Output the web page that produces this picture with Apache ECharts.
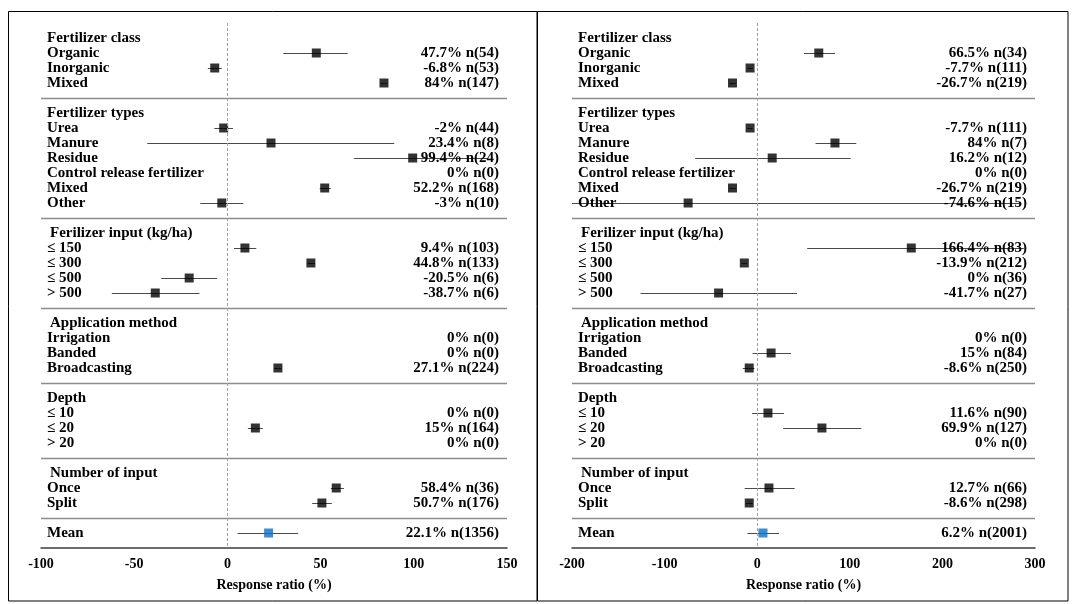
<!DOCTYPE html>
<html>
<head>
<meta charset="utf-8">
<script src="https://cdn.jsdelivr.net/npm/echarts@6/dist/echarts.min.js"></script>
<style>
html,body{margin:0;padding:0;background:#fff;}
#c{width:1074px;height:604px;}
</style>
</head>
<body>
<div id="c"></div>
<script>
// ---- data ----
const rowLabels = [
  'Fertilizer class','Organic','Inorganic','Mixed','',
  'Fertilizer types','Urea','Manure','Residue','Control release fertilizer','Mixed','Other','',
  'Ferilizer input (kg/ha)','≤ 150','≤ 300','≤ 500','> 500','',
  'Application method','Irrigation','Banded','Broadcasting','',
  'Depth','≤ 10','≤ 20','> 20','',
  'Number of input','Once','Split','',
  'Mean'
];

// left panel
const leftPct = [null,47.7,-6.8,84,null, null,-2,23.4,99.4,0,52.2,-3,null, null,9.4,44.8,-20.5,-38.7,null, null,0,0,27.1,null, null,0,15,0,null, null,58.4,50.7,null, 22.1];
const leftN   = [null,54,53,147,null, null,44,8,24,0,168,10,null, null,103,133,6,6,null, null,0,0,224,null, null,0,164,0,null, null,36,176,null, 1356];
const leftLo  = [null,30,-10.5,82,null, null,-7,-43,68,null,49.5,-14.5,null, null,3.5,43,-35.5,-62,null, null,null,null,25,null, null,null,11,null,null, null,55.5,45.5,null, 5.5];
const leftHi  = [null,64.5,-3,86,null, null,3,89.5,140,null,55.5,8.5,null, null,15.5,47,-5.5,-15,null, null,null,null,29,null, null,null,19,null,null, null,62.5,56,null, 38];

// right panel
const rightPct = [null,66.5,-7.7,-26.7,null, null,-7.7,84,16.2,0,-26.7,-74.6,null, null,166.4,-13.9,0,-41.7,null, null,0,15,-8.6,null, null,11.6,69.9,0,null, null,12.7,-8.6,null, 6.2];
const rightN   = [null,34,111,219,null, null,111,7,12,0,219,15,null, null,83,212,36,27,null, null,0,84,250,null, null,90,127,0,null, null,66,298,null, 2001];
const rightLo  = [null,50.5,-10.5,-30,null, null,-10.5,63,-67,null,-30,-200,null, null,54,-17,null,-126,null, null,null,-5,-15.5,null, null,-5.5,28,null,null, null,-13.5,-12,null, -10.5];
const rightHi  = [null,84,-5,-23,null, null,-5,107,101,null,-23,285,null, null,288,-11,null,43,null, null,null,36.5,-3,null, null,29,112.5,null,null, null,40.5,-5,null, 23.5];

const leftTicks = {min:-100, max:150, interval:50};
const rightTicks = {min:-200, max:300, interval:100};
const axisTitle = 'Response ratio (%)';

// ---- chart ----
const FONT = "'Liberation Serif','Times New Roman',serif";
const chart = echarts.init(document.getElementById('c'), null, {renderer:'canvas'});

function panelSeries(idx, pct, n, lo, hi, ticks){
  const labelData = rowLabels.map((l,i)=>[ticks.min, i]);
  const valueData = [];
  pct.forEach((v,i)=>{ if(v!==null) valueData.push([ticks.max, i, v, n[i]]); });
  const errData = [];
  lo.forEach((v,i)=>{ if(v!==null) errData.push([v, hi[i], i]); });
  const markData = [];
  lo.forEach((v,i)=>{ if(v!==null) markData.push([pct[i], i]); });
  const sepData = [];
  rowLabels.forEach((l,i)=>{ if(l==='') sepData.push([ticks.min, ticks.max, i]); });
  const indented = new Set([13,19,29]);
  return [
    { type:'custom', xAxisIndex:idx, yAxisIndex:idx, data:sepData, encode:{x:[0,1], y:2}, z:2, silent:true,
      renderItem(params, api){
        const a = api.coord([api.value(0), api.value(2)]);
        const b = api.coord([api.value(1), api.value(2)]);
        return {type:'line', shape:{x1:a[0], y1:Math.round(a[1])+0.5, x2:b[0], y2:Math.round(b[1])+0.5},
                style:{stroke:'#8c8c8c', lineWidth:1.3}};
      }},
    { type:'custom', xAxisIndex:idx, yAxisIndex:idx, data:errData, encode:{x:[0,1], y:2}, z:3, silent:true,
      renderItem(params, api){
        const a = api.coord([api.value(0), api.value(2)]);
        const b = api.coord([api.value(1), api.value(2)]);
        return {type:'line', shape:{x1:a[0], y1:Math.round(a[1])+0.5, x2:b[0], y2:Math.round(b[1])+0.5},
                style:{stroke:'#4a4a4a', lineWidth:1}};
      }},
    { type:'scatter', xAxisIndex:idx, yAxisIndex:idx, data:markData, symbol:'rect', symbolSize:9, z:4, silent:true,
      itemStyle:{ color:(p)=> rowLabels[p.data[1]]==='Mean' ? '#0b70c4' : '#000' },
      markLine:{ silent:true, symbol:'none', label:{show:false},
        lineStyle:{color:'#a0a0a0', type:[3,2], width:1}, data:[{xAxis:0}] } },
    { type:'custom', xAxisIndex:idx, yAxisIndex:idx, data:labelData, encode:{x:0, y:1}, z:5, silent:true,
      renderItem(params, api){
        const i = api.value(1);
        const p = api.coord([api.value(0), i]);
        return {type:'text', x:p[0]+6 + (indented.has(i)?3:0), y:p[1],
          style:{text:rowLabels[i], fill:'#000', font:'bold 15px '+FONT, align:'left', verticalAlign:'middle'}};
      }},
    { type:'custom', xAxisIndex:idx, yAxisIndex:idx, data:valueData, encode:{x:0, y:1}, z:5, silent:true,
      renderItem(params, api){
        const p = api.coord([api.value(0), api.value(1)]);
        return {type:'text', x:p[0]-8, y:p[1],
          style:{text: api.value(2)+'% n('+api.value(3)+')', fill:'#000', font:'bold 15px '+FONT, align:'right', verticalAlign:'middle'}};
      }}
  ];
}

function xAxisDef(idx, ticks){
  return { type:'value', gridIndex:idx, min:ticks.min, max:ticks.max, interval:ticks.interval,
    name:axisTitle, nameLocation:'middle', nameGap:30,
    nameTextStyle:{fontFamily:FONT, fontWeight:'bold', fontSize:14, color:'#000'},
    axisLine:{show:true, onZero:false, lineStyle:{color:'#3c3c3c', width:1.5}},
    axisTick:{show:false}, splitLine:{show:false},
    axisLabel:{fontFamily:FONT, fontWeight:'bold', fontSize:14, color:'#000', margin:9}};
}
function yAxisDef(idx){
  return { type:'value', gridIndex:idx, min:-1, max:34, inverse:true, show:false };
}

chart.setOption({
  animation:false,
  backgroundColor:'#fff',
  grid:[
    {left:41, width:466, top:23, height:525},
    {left:572, width:463, top:23, height:525}
  ],
  xAxis:[xAxisDef(0, leftTicks), xAxisDef(1, rightTicks)],
  yAxis:[yAxisDef(0), yAxisDef(1)],
  graphic:[
    {type:'rect', shape:{x:8.5, y:11.5, width:528.5, height:589.5}, style:{fill:'none', stroke:'#000', lineWidth:1}, silent:true},
    {type:'rect', shape:{x:537.5, y:11.5, width:530.5, height:589.5}, style:{fill:'none', stroke:'#000', lineWidth:1}, silent:true}
  ],
  series:[
    ...panelSeries(0, leftPct, leftN, leftLo, leftHi, leftTicks),
    ...panelSeries(1, rightPct, rightN, rightLo, rightHi, rightTicks)
  ]
});
</script>
</body>
</html>
